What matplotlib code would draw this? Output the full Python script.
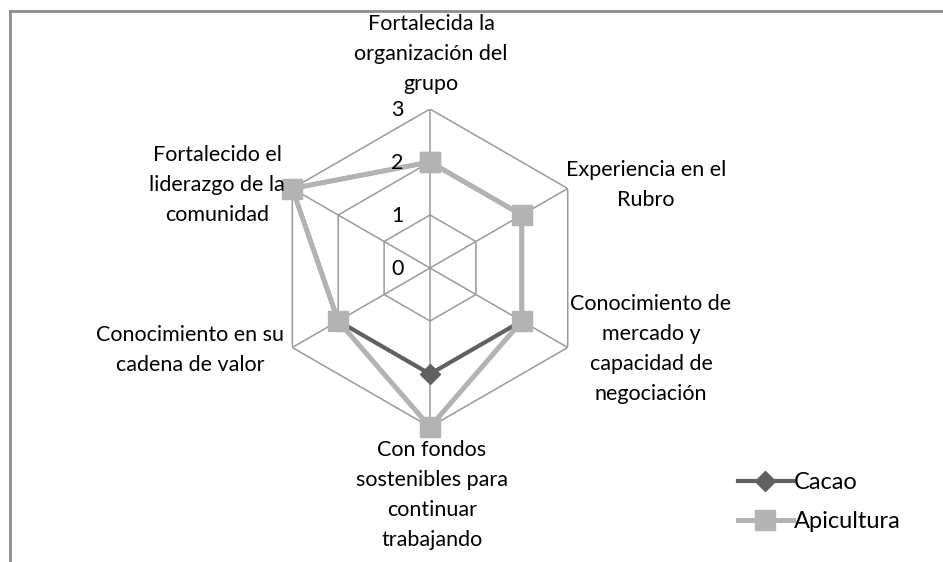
import numpy as np
import matplotlib
matplotlib.use('Agg')
import matplotlib.pyplot as plt
from matplotlib.lines import Line2D

plt.rcParams['font.family'] = ['Lato', 'DejaVu Sans']

# datos
categorias = ['Fortalecida la\norganización del\ngrupo',
              'Experiencia en el\nRubro',
              'Conocimiento de\nmercado y\ncapacidad de\nnegociación',
              'Con fondos\nsostenibles para\ncontinuar\ntrabajando',
              'Conocimiento en su\ncadena de valor',
              'Fortalecido el\nliderazgo de la\ncomunidad']
cacao = [2, 2, 2, 2, 2, 3]
apicultura = [2, 2, 2, 3, 2, 3]
niveles = [0, 1, 2, 3]

n = len(categorias)
ang = np.linspace(0, 2 * np.pi, n, endpoint=False)
ang_c = np.append(ang, ang[0])

fig = plt.figure(figsize=(9.43, 5.62), dpi=100)
ax = fig.add_axes([271 / 943, 135 / 562, 318 / 943, 318 / 562], projection='polar')
ax.set_theta_offset(np.pi / 2)
ax.set_theta_direction(-1)
ax.set_ylim(0, 3)
ax.axis('off')

gris = '#9a9a9a'
# rejilla hexagonal
for r in niveles[1:]:
    ax.plot(ang_c, [r] * (n + 1), color=gris, lw=1.1, zorder=1)
for a in ang:
    ax.plot([a, a], [0, 3], color=gris, lw=1.1, zorder=1)

# series
ax.plot(ang_c, cacao + [cacao[0]], color='#606060', lw=3, marker='D', ms=10,
        zorder=3, clip_on=False)
ax.plot(ang_c, apicultura + [apicultura[0]], color='#b3b3b3', lw=3.6, marker='s', ms=14,
        zorder=4, clip_on=False)

# etiquetas de nivel
for r in niveles:
    ax.annotate(str(r), (0, r), xytext=(-19, -1), textcoords='offset points',
                ha='right', va='center', fontsize=15.5, zorder=5)

# etiquetas de categorias (posicion en pixeles de la figura)
pos = [(431, 54), (646, 185), (651, 349), (432, 495), (190, 350), (217, 185)]
for txt, (x, y) in zip(categorias, pos):
    fig.text(x / 943, 1 - y / 562, txt, ha='center', va='center', fontsize=15.5,
             linespacing=1.62, multialignment='center')

# leyenda
handles = [Line2D([], [], color='#606060', lw=3, marker='D', ms=10),
           Line2D([], [], color='#b3b3b3', lw=3.6, marker='s', ms=14)]
fig.legend(handles, ['Cacao', 'Apicultura'], loc='center left',
           bbox_to_anchor=(717 / 943, 1 - 502 / 562), frameon=False,
           fontsize=17, handlelength=2.3, handletextpad=0.05, labelspacing=0.75)

# borde del grafico
fig.add_artist(Line2D([10 / 943, 10 / 943], [0, 1 - 11 / 562], color='#8c8c8c', lw=2,
                      transform=fig.transFigure))
fig.add_artist(Line2D([10 / 943, 1], [1 - 11 / 562, 1 - 11 / 562], color='#8c8c8c', lw=2,
                      transform=fig.transFigure))

fig.savefig('out.png', dpi=100, facecolor='white')
